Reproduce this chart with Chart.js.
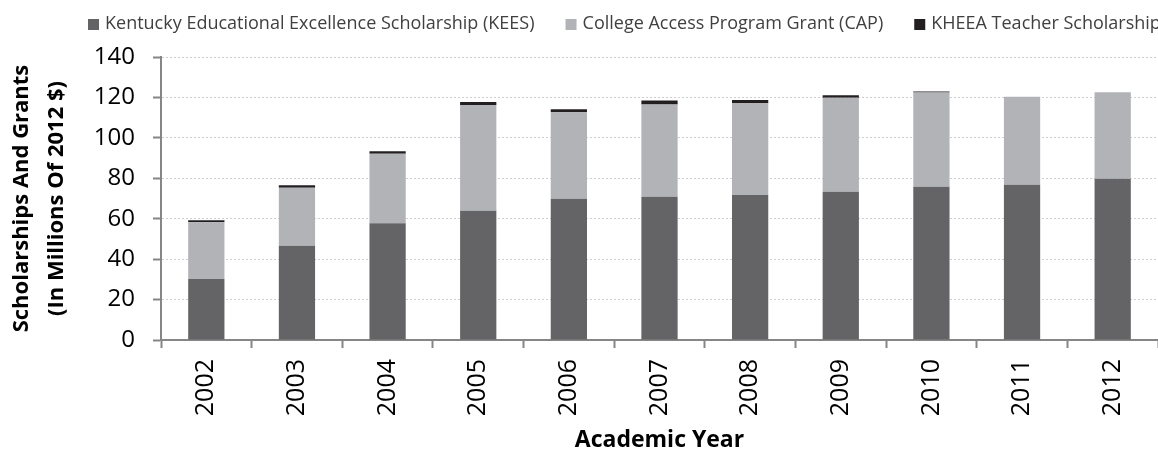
<!DOCTYPE html>
<html>
<head>
<meta charset="utf-8">
<script src="https://cdn.jsdelivr.net/npm/chart.js@4.4.1/dist/chart.umd.min.js"></script>
<style>
  html, body { margin: 0; padding: 0; background: #ffffff; overflow: hidden; }
  #wrap { width: 1158px; height: 454px; }
</style>
</head>
<body>
<div id="wrap"><canvas id="c" width="1158" height="454"></canvas></div>
<script>
// ---- data ----
const years = ['2002', '2003', '2004', '2005', '2006', '2007', '2008', '2009', '2010', '2011', '2012'];
const keesValues = [30.2, 46.6, 57.7, 63.9, 69.9, 70.9, 71.7, 73.3, 75.8, 76.8, 79.8];
const capValues = [28.0, 28.7, 34.4, 52.3, 42.8, 45.6, 45.5, 46.5, 46.7, 43.5, 42.8];
const teacherValues = [1.1, 1.2, 1.3, 1.5, 1.5, 2.0, 1.5, 1.3, 0.4, 0, 0];
const seriesLabels = [
  'Kentucky Educational Excellence Scholarship (KEES)',
  'College Access Program Grant (CAP)',
  'KHEEA Teacher Scholarships'
];
const yTitle = ['Scholarships And Grants', '(In Millions Of 2012 $)'];
const xTitle = 'Academic Year';

const FONT = "'Open Sans', 'Liberation Sans', sans-serif";
const colors = ['#646466', '#b2b3b6', '#231f20'];

// custom single-line legend (reference legend runs past the right edge)
const topLegend = {
  id: 'topLegend',
  afterDraw(chart) {
    const ctx = chart.ctx;
    ctx.save();
    ctx.font = '18px ' + FONT;
    ctx.textBaseline = 'middle';
    ctx.textAlign = 'left';
    let x = 88;
    const y = 24;
    chart.data.datasets.forEach((ds) => {
      ctx.fillStyle = ds.backgroundColor;
      ctx.fillRect(x, y - 5, 11, 11);
      x += 17;
      ctx.fillStyle = '#404040';
      ctx.fillText(ds.label, x, y);
      x += ctx.measureText(ds.label).width + 31;
    });
    ctx.restore();
  }
};

const ctx = document.getElementById('c').getContext('2d');
new Chart(ctx, {
  type: 'bar',
  data: {
    labels: years,
    datasets: [
      { label: seriesLabels[0], data: keesValues, backgroundColor: colors[0] },
      { label: seriesLabels[1], data: capValues, backgroundColor: colors[1] },
      { label: seriesLabels[2], data: teacherValues, backgroundColor: colors[2] }
    ]
  },
  options: {
    responsive: false,
    animation: false,
    layout: { padding: { top: 57, left: 0, right: 0, bottom: 0 } },
    datasets: {
      bar: {
        categoryPercentage: 1.0,
        barPercentage: 0.4,
        borderWidth: 0
      }
    },
    plugins: {
      legend: { display: false },
      tooltip: { enabled: false },
      title: { display: false }
    },
    scales: {
      x: {
        stacked: true,
        afterFit: (s) => { s.height = 114; },
        grid: {
          display: true,
          offset: true,
          drawOnChartArea: false,
          drawTicks: true,
          tickLength: 8,
          tickColor: '#868686',
          tickWidth: 2
        },
        border: { display: true, color: '#868686', width: 2 },
        ticks: {
          minRotation: 90,
          maxRotation: 90,
          autoSkip: false,
          padding: 11,
          color: '#000000',
          font: { family: FONT, size: 25 }
        },
        title: {
          display: true,
          text: xTitle,
          color: '#000000',
          padding: { top: 0, bottom: 0 },
          font: { family: FONT, size: 23, weight: 'bold' }
        }
      },
      y: {
        stacked: true,
        min: 0,
        max: 140,
        afterFit: (s) => { s.width = 161; },
        ticks: {
          stepSize: 20,
          padding: 18,
          color: '#000000',
          font: { family: FONT, size: 24 }
        },
        grid: {
          color: '#cfcfcf',
          lineWidth: 1,
          drawTicks: true,
          tickLength: 8,
          tickColor: '#868686',
          tickWidth: 2
        },
        border: { display: true, color: '#868686', width: 2, dash: [2, 2] },
        title: {
          display: true,
          text: yTitle,
          color: '#000000',
          padding: { top: 4, bottom: 0 },
          font: { family: FONT, size: 22, weight: 'bold', lineHeight: 1.6 }
        }
      }
    }
  },
  plugins: [topLegend]
});
</script>
</body>
</html>
